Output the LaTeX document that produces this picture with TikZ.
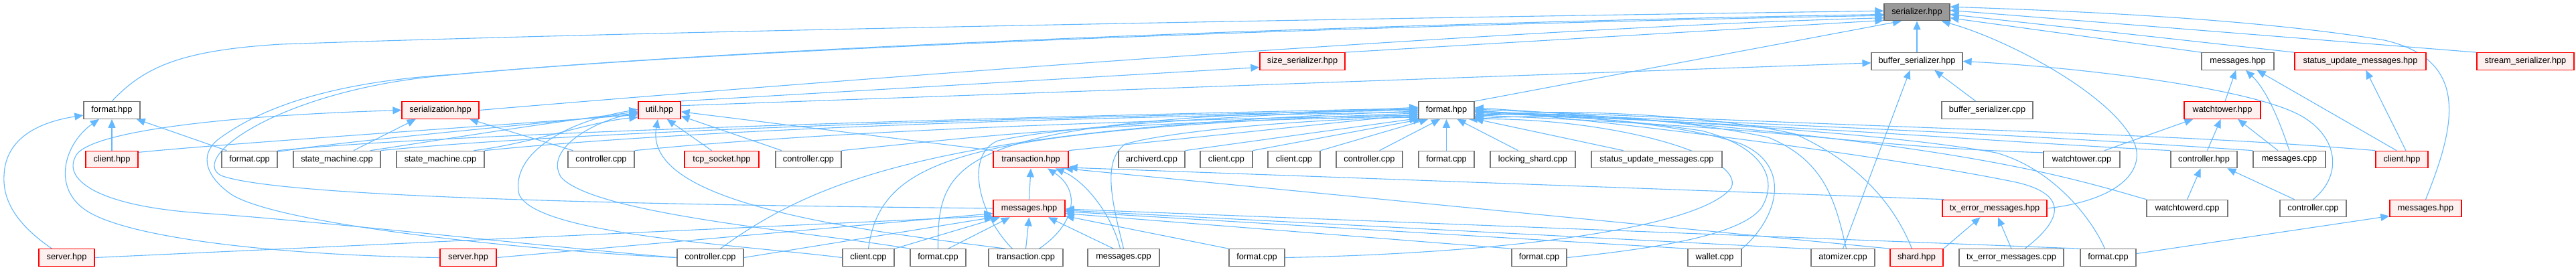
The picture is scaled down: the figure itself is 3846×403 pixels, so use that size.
\documentclass[tikz,border=0pt]{standalone}
\usepackage{fontspec}
\newfontfamily\lsans{Liberation Sans}
\usetikzlibrary{arrows.meta}
\definecolor{edgeblue}{HTML}{63B8FF}
\definecolor{nodegray}{HTML}{777777}
\definecolor{nodered}{HTML}{FF0000}
\definecolor{nodepink}{HTML}{FFF0F0}
\definecolor{rootfill}{HTML}{999999}
\definecolor{rootborder}{HTML}{666666}
\pgfdeclarelayer{bg}
\pgfsetlayers{bg,main}
\tikzset{
  nb/.style={draw=nodegray, fill=white, line width=1.2pt, minimum height=25.5pt, inner sep=0pt, font=\lsans\fontsize{12.8pt}{15pt}\selectfont},
  nr/.style={nb, draw=nodered, fill=nodepink},
  nroot/.style={nb, draw=rootborder, fill=rootfill},
  e/.style={draw=edgeblue, line width=1.1pt, -{Triangle[length=13pt,width=11pt]}},
}
\begin{document}
\begin{tikzpicture}[x=1pt,y=-1pt]
\useasboundingbox (0,0) rectangle (3846,403);
% row 0
\node[nroot, minimum width=98pt] (S) at (2862,18) {serializer.hpp};
% row 1
\node[nr, minimum width=127pt] (sz) at (1944.5,91.5) {size\_serializer.hpp};
\node[nb, minimum width=136pt] (B) at (2862,91.5) {buffer\_serializer.hpp};
\node[nb, minimum width=108pt] (mh1) at (3341,91.5) {messages.hpp};
\node[nr, minimum width=196pt] (suh) at (3524,91.5) {status\_update\_messages.hpp};
\node[nr, minimum width=145pt] (ss) at (3770.5,91.5) {stream\_serializer.hpp};
% row 2
\node[nb, minimum width=84pt] (fh1) at (167,164.5) {format.hpp};
\node[nr, minimum width=115pt] (sn) at (657.5,164.5) {serialization.hpp};
\node[nr, minimum width=63pt] (ut) at (984.5,164.5) {util.hpp};
\node[nb, minimum width=83pt] (FH) at (2159.5,164.5) {format.hpp};
\node[nb, minimum width=136pt] (bsc) at (2967,164.5) {buffer\_serializer.cpp};
\node[nr, minimum width=114pt] (wth) at (3318,164.5) {watchtower.hpp};
% row 3
\node[nr, minimum width=78pt] (ch1) at (167,238) {client.hpp};
\node[nb, minimum width=83pt] (fc1) at (372.5,238) {format.cpp};
\node[nb, minimum width=130pt] (sm1) at (503,238) {state\_machine.cpp};
\node[nb, minimum width=131pt] (sm2) at (657.5,238) {state\_machine.cpp};
\node[nb, minimum width=99pt] (cc1) at (897.5,238) {controller.cpp};
\node[nr, minimum width=111pt] (tcp) at (1077.5,238) {tcp\_socket.hpp};
\node[nb, minimum width=98pt] (cc2) at (1207,238) {controller.cpp};
\node[nr, minimum width=112pt] (th) at (1539,238) {transaction.hpp};
\node[nb, minimum width=99pt] (arc) at (1719.5,238) {archiverd.cpp};
\node[nb, minimum width=78pt] (cl3a) at (1831,238) {client.cpp};
\node[nb, minimum width=78pt] (cl3b) at (1932,238) {client.cpp};
\node[nb, minimum width=99pt] (cc4) at (2044.5,238) {controller.cpp};
\node[nb, minimum width=83pt] (fc3) at (2159.5,238) {format.cpp};
\node[nb, minimum width=127pt] (ls) at (2288.5,238) {locking\_shard.cpp};
\node[nb, minimum width=195pt] (sum) at (2473.5,238) {status\_update\_messages.cpp};
\node[nb, minimum width=114pt] (wtc) at (3108,238) {watchtower.cpp};
\node[nb, minimum width=99pt] (chp) at (3290.5,238) {controller.hpp};
\node[nb, minimum width=108pt] (ms3) at (3418,238) {messages.cpp};
\node[nr, minimum width=78pt] (ch3) at (3586,238) {client.hpp};
% row 4
\node[nr, minimum width=107pt] (mh4) at (1536.5,311) {messages.hpp};
\node[nr, minimum width=156pt] (teh) at (2978,311) {tx\_error\_messages.hpp};
\node[nb, minimum width=121pt] (wtd) at (3265.5,311) {watchtowerd.cpp};
\node[nb, minimum width=99pt] (cc6) at (3453.5,311) {controller.cpp};
\node[nr, minimum width=107pt] (mh4b) at (3621.5,311) {messages.hpp};
% row 5
\node[nr, minimum width=83pt] (sv1) at (99.5,384.5) {server.hpp};
\node[nr, minimum width=84pt] (sv2) at (699,384.5) {server.hpp};
\node[nb, minimum width=99pt] (cc3) at (1060.5,384.5) {controller.cpp};
\node[nb, minimum width=77pt] (cl5) at (1296.5,384.5) {client.cpp};
\node[nb, minimum width=83pt] (fc5a) at (1400.5,384.5) {format.cpp};
\node[nb, minimum width=111pt] (tc) at (1531.5,384.5) {transaction.cpp};
\node[nb, minimum width=107pt] (ms5) at (1677.5,384.5) {messages.cpp};
\node[nb, minimum width=83pt] (fc5b) at (1876.5,384.5) {format.cpp};
\node[nb, minimum width=82pt] (fc5c) at (2298,384.5) {format.cpp};
\node[nb, minimum width=80pt] (wal) at (2560,384.5) {wallet.cpp};
\node[nb, minimum width=95pt] (atm) at (2751.5,384.5) {atomizer.cpp};
\node[nr, minimum width=79pt] (sh) at (2861.5,384.5) {shard.hpp};
\node[nb, minimum width=156pt] (tec) at (3003,384.5) {tx\_error\_messages.cpp};
\node[nb, minimum width=83pt] (fc5d) at (3147.5,384.5) {format.cpp};

\begin{pgfonlayer}{bg}
% into serializer.hpp
\draw[e] (fh1.north) .. controls (215,100) and (270,75) .. (420,66) .. controls (1100,42) and (2400,22) .. (S.178);
\draw[e] (mh4.west) .. controls (1000,306) and (420,296) .. (330,262) .. controls (280,235) and (420,135) .. (660,113) .. controls (1200,62) and (2300,30) .. (S.184);
\draw[e] (cc3.west) .. controls (820,376) and (420,338) .. (345,290) .. controls (300,258) and (300,225) .. (330,205) .. controls (420,140) and (560,118) .. (680,111) .. controls (1200,64) and (2300,32) .. (S.186);
\draw[e] (sn.east) .. controls (1300,115) and (2300,40) .. (S.190);
\draw[e] (sz.12) -- (S.194);
\draw[e] (FH.north east) -- (S.210);
\draw[e] (B.north) -- (S.south);
\draw[e] (mh1.north west) -- (S.350);
\draw[e] (suh.north west) -- (S.356);
\draw[e] (ss.north west) -- (S.3);
\draw[e] (teh.east) .. controls (3170,298) and (3205,250) .. (3185,210) .. controls (3150,140) and (3000,60) .. (S.340);
\draw[e] (mh4b.north) .. controls (3665,190) and (3690,90) .. (3560,60) .. controls (3350,25) and (3050,15) .. (S.9);
% into buffer_serializer.hpp / size_serializer.hpp
\draw[e] (ut.12) -- (B.182);
\draw[e] (ut.25) -- (sz.188);
\draw[e] (atm.north) -- (B.232);
\draw[e] ([xshift=-17pt]bsc.north) -- (B.333);
\draw[e] (cc6.north) .. controls (3500,260) and (3490,200) .. (3430,170) .. controls (3350,130) and (3100,100) .. (B.east);
% into left format.hpp
\draw[e] (ch1.north) -- (fh1.south);
\draw[e] ([xshift=8pt]fc1.north west) -- (fh1.340);
\draw[e] ([xshift=-22pt]sv1.north) .. controls (25,335) and (4,300) .. (6,262) .. controls (8,205) and (60,182) .. (fh1.190);
\draw[e] (sv2.west) .. controls (450,382) and (210,360) .. (135,318) .. controls (75,285) and (95,215) .. (fh1.215);
% into serialization.hpp
\draw[e] ([xshift=25pt]sm1.north) -- (sn.200);
\draw[e] ([xshift=8pt]cc1.north west) -- (sn.343);
\draw[e] (cc3.west) .. controls (850,372) and (480,330) .. (300,318) .. controls (150,308) and (95,270) .. (112,235) .. controls (125,195) and (350,172) .. (sn.west);
% into util.hpp
\draw[e] (ch1.15) .. controls (330,215) and (700,190) .. (ut.192);
\draw[e] (fc1.15) .. controls (500,212) and (750,190) .. (ut.188);
\draw[e] (sm1.15) .. controls (620,215) and (800,185) .. (ut.184);
\draw[e] (sm2.15) .. controls (790,215) and (880,182) .. (ut.198);
\draw[e] ([xshift=-15pt]tcp.north) -- (ut.-50);
\draw[e] ([xshift=-40pt]cc2.north) -- (ut.-15);
\draw[e] (th.north west) -- (ut.-4);
\draw[e] (cl5.west) .. controls (1100,365) and (800,350) .. (775,290) .. controls (762,232) and (840,182) .. (ut.178);
\draw[e] (fc5a.north west) .. controls (1200,345) and (890,320) .. (838,265) .. controls (812,225) and (880,183) .. (ut.186);
\draw[e] ([xshift=-30pt]tc.north) .. controls (1250,340) and (960,300) .. (ut.260);
% into big format.hpp, from the left
\draw[e] (fc1.north east) .. controls +(250,-25) and +(-700,15) .. (FH.176);
\draw[e] (sm1.north east) .. controls +(250,-25) and +(-700,12) .. (FH.180);
\draw[e] (sm2.north east) .. controls +(250,-25) and +(-700,10) .. (FH.184);
\draw[e] (cc1.north east) .. controls +(200,-20) and +(-600,10) .. (FH.190);
\draw[e] (cc2.north east) .. controls +(200,-20) and +(-500,10) .. (FH.192);
\draw[e] (th.north east) -- (FH.188);
\draw[e] (arc.north east) -- (FH.196);
\draw[e] (cl3a.north east) -- (FH.200);
\draw[e] (cl3b.north east) -- (FH.206);
\draw[e] ([xshift=15pt]cc4.north) -- (FH.235);
\draw[e] (fc3.north) -- (FH.south);
\draw[e] ([xshift=15pt]cc3.north) .. controls (1225,262) and (1418,192) .. (FH.182);
\draw[e] (cl5.north) .. controls (1316,230) and (1450,195) .. (FH.186);
\draw[e] (fc5a.north) .. controls (1400,240) and (1420,175) .. (FH.178);
\draw[e] ([xshift=-20pt]tc.north) .. controls (1460,320) and (1440,230) .. (1490,210) .. controls (1600,185) and (1900,172) .. (FH.174);
\draw[e] (ms5.north) .. controls (1660,300) and (1645,240) .. (1680,215) .. controls (1750,195) and (1950,178) .. (FH.194);
% into big format.hpp, from the right
\draw[e] ([xshift=-22pt]ls.north) -- (FH.320);
\draw[e] ([xshift=-50pt]sum.north) -- (FH.343);
\draw[e] (wtc.170) .. controls +(-300,-10) and +(500,20) .. (FH.350);
\draw[e] (chp.north west) .. controls +(-300,-15) and +(600,25) .. (FH.355);
\draw[e] (ms3.north west) .. controls +(-300,-20) and +(700,30) .. (FH.358);
\draw[e] (ch3.north west) .. controls +(-300,-25) and +(800,35) .. (FH.2);
\draw[e] (wtd.north west) .. controls (3080,262) and (2900,205) .. (FH.5);
\draw[e] (wal.north east) .. controls (2650,330) and (2680,250) .. (2600,215) .. controls (2500,180) and (2300,170) .. (FH.352);
\draw[e] ([xshift=5pt]atm.north) .. controls (2740,300) and (2725,240) .. (2640,205) .. controls (2500,175) and (2300,165) .. (FH.348);
\draw[e] ([xshift=-7pt]sh.north) .. controls (2830,310) and (2780,245) .. (2680,200) .. controls (2550,170) and (2300,160) .. (FH.345);
\draw[e] ([xshift=20pt]tec.north) .. controls (3090,320) and (3080,285) .. (3000,270) .. controls (2800,230) and (2400,180) .. (FH.0);
\draw[e] ([xshift=-5pt]fc5d.north) .. controls (3120,320) and (3060,250) .. (2980,228) .. controls (2800,195) and (2400,175) .. (FH.357);
\draw[e] (fc5c.east) .. controls (2480,370) and (2600,350) .. (2630,310) .. controls (2660,260) and (2620,215) .. (2540,195) .. controls (2400,175) and (2300,170) .. (FH.341);
\draw[e] (fc5b.east) .. controls (2250,378) and (2540,340) .. (2585,280) .. controls (2605,230) and (2400,175) .. (FH.338);
% into messages.hpp (row 4)
\draw[e] (sv1.east) -- (mh4.192);
\draw[e] (sv2.east) -- (mh4.188);
\draw[e] (cc3.east) -- (mh4.194);
\draw[e] (cl5.north east) -- (mh4.197);
\draw[e] ([xshift=15pt]fc5a.north) -- (mh4.205);
\draw[e] (tc.north) -- (mh4.south);
\draw[e] ([xshift=-15pt]ms5.north) -- (mh4.-25);
\draw[e] (fc5b.north west) -- (mh4.-12);
\draw[e] (fc5c.north west) -- (mh4.-8);
\draw[e] (wal.north west) -- (mh4.-5);
\draw[e] (atm.165) -- (mh4.-3);
\draw[e] (fc5d.north west) -- (mh4.-1);
% into transaction.hpp
\draw[e] (mh4.north) -- (th.south);
\draw[e] ([xshift=20pt]tc.north) .. controls (1605,335) and (1615,285) .. (th.-28);
\draw[e] ([xshift=-5pt]ms5.north) .. controls (1660,320) and (1620,270) .. (th.-20);
\draw[e] (teh.170) -- (th.-12);
\draw[e] (sh.north west) -- (th.-15);
% into tx_error_messages.hpp
\draw[e] (sh.north east) -- (teh.212);
\draw[e] (tec.north) -- ([xshift=5pt]teh.south);
% watchtower side
\draw[e] ([xshift=5pt]chp.north) -- (wth.-100);
\draw[e] ([xshift=-17pt]ms3.north) -- (wth.-30);
\draw[e] ([xshift=34pt]wtc.north) -- (wth.197);
\draw[e] ([xshift=4pt]wth.north) -- (mh1.258);
\draw[e] (ms3.north) .. controls (3405,185) and (3385,135) .. (mh1.-48);
\draw[e] ([xshift=-8pt]ch3.north) -- (mh1.-25);
\draw[e] ([xshift=6pt]ch3.north) -- (suh.-58);
\draw[e] (wtd.north) -- (chp.250);
\draw[e] ([xshift=-28pt]cc6.north) -- (chp.-21);
\draw[e] (fc5d.8) -- (mh4b.192);
\end{pgfonlayer}
\end{tikzpicture}
\end{document}
